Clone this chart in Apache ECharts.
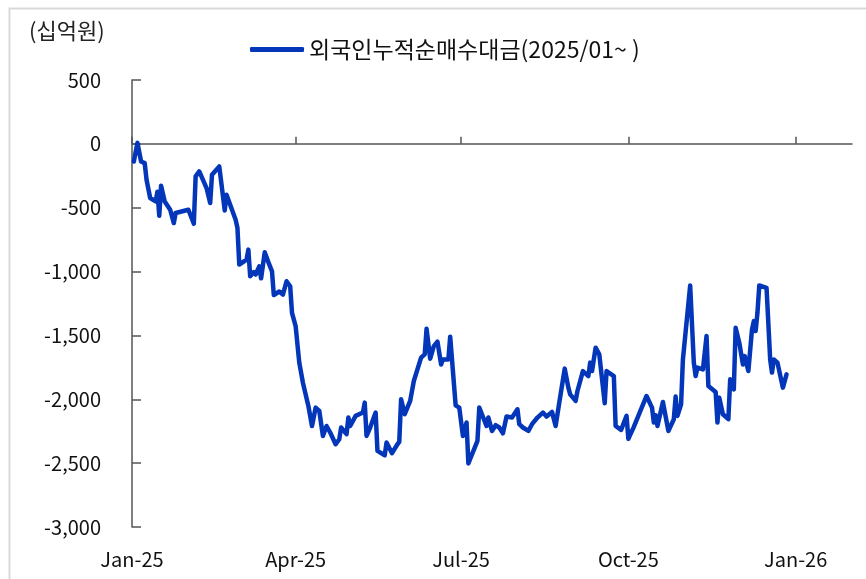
<!DOCTYPE html>
<html>
<head>
<meta charset="utf-8">
<script src="https://cdn.jsdelivr.net/npm/echarts@6/dist/echarts.min.js"></script>
<style>
html, body { margin: 0; padding: 0; background: #fff; }
#chart { width: 866px; height: 579px; }
</style>
</head>
<body>
<div id="chart"></div>
<script>
// 외국인 누적 순매수대금 (십억원), 2025/01 ~
var dates = [
    '2025-01-02','2025-01-04','2025-01-06','2025-01-08','2025-01-09','2025-01-11','2025-01-14','2025-01-15','2025-01-16','2025-01-17',
    '2025-01-19','2025-01-22','2025-01-23','2025-01-24','2025-01-25','2025-02-01','2025-02-04','2025-02-05','2025-02-07','2025-02-08',
    '2025-02-11','2025-02-13','2025-02-14','2025-02-18','2025-02-21','2025-02-22','2025-02-24','2025-02-27','2025-02-28','2025-03-01',
    '2025-03-02','2025-03-05','2025-03-06','2025-03-07','2025-03-09','2025-03-10','2025-03-12','2025-03-13','2025-03-15','2025-03-17',
    '2025-03-19','2025-03-20','2025-03-21','2025-03-23','2025-03-25','2025-03-27','2025-03-29','2025-03-30','2025-04-01','2025-04-02',
    '2025-04-03','2025-04-05','2025-04-08','2025-04-10','2025-04-12','2025-04-14','2025-04-16','2025-04-18','2025-04-20','2025-04-23',
    '2025-04-25','2025-04-26','2025-04-29','2025-04-30','2025-05-01','2025-05-04','2025-05-08','2025-05-09','2025-05-10','2025-05-12',
    '2025-05-15','2025-05-16','2025-05-20','2025-05-21','2025-05-24','2025-05-27','2025-05-28','2025-05-29','2025-05-30','2025-05-31',
    '2025-06-03','2025-06-05','2025-06-09','2025-06-11','2025-06-12','2025-06-13','2025-06-14','2025-06-16','2025-06-18','2025-06-20',
    '2025-06-21','2025-06-24','2025-06-25','2025-06-28','2025-06-30','2025-07-02','2025-07-04','2025-07-05','2025-07-10','2025-07-11',
    '2025-07-15','2025-07-16','2025-07-18','2025-07-20','2025-07-22','2025-07-24','2025-07-26','2025-07-29','2025-08-01','2025-08-02',
    '2025-08-04','2025-08-05','2025-08-07','2025-08-09','2025-08-12','2025-08-15','2025-08-17','2025-08-20','2025-08-22','2025-08-24',
    '2025-08-27','2025-08-29','2025-08-30','2025-09-02','2025-09-03','2025-09-06','2025-09-09','2025-09-10','2025-09-11','2025-09-13',
    '2025-09-15','2025-09-18','2025-09-19','2025-09-23','2025-09-24','2025-09-27','2025-09-30','2025-10-01','2025-10-04','2025-10-11',
    '2025-10-14','2025-10-15','2025-10-16','2025-10-17','2025-10-20','2025-10-23','2025-10-26','2025-10-27','2025-10-28','2025-10-30',
    '2025-10-31','2025-11-04','2025-11-06','2025-11-07','2025-11-08','2025-11-11','2025-11-13','2025-11-14','2025-11-18','2025-11-19',
    '2025-11-20','2025-11-22','2025-11-25','2025-11-26','2025-11-28','2025-11-29','2025-12-01','2025-12-03','2025-12-04','2025-12-06',
    '2025-12-08','2025-12-09','2025-12-10','2025-12-11','2025-12-12','2025-12-16','2025-12-18','2025-12-19','2025-12-20','2025-12-22',
    '2025-12-25','2025-12-27'
];
var values = [
    -138, 8, -138, -151, -281, -424, -451, -375, -563, -328,
    -451, -516, -529, -620, -541, -516, -625, -255, -216, -229,
    -346, -463, -242, -177, -521, -398, -477, -594, -659, -945,
    -932, -906, -828, -1037, -1004, -1023, -959, -1053, -849, -926,
    -998, -1184, -1180, -1156, -1180, -1076, -1115, -1323, -1427, -1440,
    -1713, -1870, -2052, -2209, -2065, -2091, -2287, -2209, -2260, -2352,
    -2313, -2221, -2273, -2143, -2209, -2130, -2104, -2026, -2287, -2221,
    -2104, -2404, -2438, -2338, -2422, -2352, -2334, -2000, -2000, -2117,
    -2013, -1857, -1674, -1648, -1448, -1448, -1682, -1584, -1549, -1727,
    -1688, -1688, -1510, -2047, -2065, -2287, -2182, -2502, -2326, -2065,
    -2209, -2143, -2248, -2203, -2221, -2266, -2135, -2143, -2078, -2195,
    -2221, -2209, -2248, -2195, -2143, -2104, -2135, -2099, -2209, -2026,
    -1760, -1909, -1961, -2013, -1935, -1779, -1818, -1713, -1779, -1596,
    -1648, -2031, -1779, -1818, -2209, -2240, -2130, -2310, -2216, -1974,
    -2065, -2182, -2125, -2209, -2021, -2248, -2156, -1979, -2130, -2039,
    -1688, -1109, -1713, -1818, -1752, -1766, -1505, -1896, -1943, -2182,
    -1987, -2117, -2156, -1844, -1922, -1440, -1557, -1727, -1662, -1779,
    -1453, -1388, -1466, -1323, -1109, -1127, -1688, -1791, -1688, -1713,
    -1909, -1805
];
var tickDates = ['2025-01-01', '2025-04-01', '2025-07-01', '2025-10-01', '2026-01-01'];
var tickLabels = ['Jan-25', 'Apr-25', 'Jul-25', 'Oct-25', 'Jan-26'];
var seriesName = '외국인누적순매수대금(2025/01~ )';
var unitText = '(십억원)';

var FONT = "'Noto Sans CJK KR', 'Noto Sans', sans-serif";
var BASE = Date.UTC(2025, 0, 1);
function dayOf(s) {
    var p = s.split('-');
    return (Date.UTC(+p[0], +p[1] - 1, +p[2]) - BASE) / 86400000;
}
var tickDays = tickDates.map(dayOf);
var labelMap = {};
tickDays.forEach(function (d, i) { labelMap[d] = tickLabels[i]; });
var lineData = dates.map(function (d, i) { return [dayOf(d), values[i]]; });
var xMax = dayOf('2026-02-01');

var chart = echarts.init(document.getElementById('chart'));
chart.setOption({
    animation: false,
    backgroundColor: '#fff',
    textStyle: { fontFamily: FONT },
    graphic: [
        {
            type: 'rect',
            left: 7, top: 6,
            shape: { width: 900, height: 620 },
            style: { fill: 'none', stroke: '#d9d9d9', lineWidth: 2 }
        },
        {
            type: 'text',
            left: 29, top: 20,
            style: { text: unitText, fontSize: 22, fontFamily: FONT, fill: '#222' }
        }
    ],
    legend: {
        left: 245,
        top: 33,
        icon: 'roundRect',
        itemWidth: 54,
        itemHeight: 5,
        itemGap: 10,
        textStyle: { fontSize: 23, color: '#111', fontFamily: FONT },
        data: [seriesName]
    },
    grid: { left: 132, right: 14, top: 80, bottom: 52 },
    xAxis: [
        {
            type: 'value',
            min: 0, max: xMax,
            axisLine: { onZero: true, lineStyle: { color: '#555', width: 1.5 } },
            axisTick: { show: true, inside: true, length: 7, customValues: tickDays, lineStyle: { color: '#555', width: 1.5 } },
            axisLabel: { show: false },
            splitLine: { show: false }
        },
        {
            type: 'value',
            position: 'bottom',
            min: 0, max: xMax,
            axisLine: { show: false, onZero: false },
            axisTick: { show: false },
            axisLabel: {
                customValues: tickDays,
                margin: 22,
                fontSize: 20,
                color: '#111',
                fontFamily: FONT,
                formatter: function (v) { return labelMap[v] || ''; }
            },
            splitLine: { show: false }
        }
    ],
    yAxis: {
        type: 'value',
        min: -3000, max: 500, interval: 500,
        axisLine: { show: true, lineStyle: { color: '#555', width: 1.5 } },
        axisTick: { show: true, inside: true, length: 9, lineStyle: { color: '#555', width: 1.5 } },
        axisLabel: {
            margin: 31,
            fontSize: 20,
            color: '#111',
            fontFamily: FONT,
            formatter: function (v) { return echarts.format.addCommas(v); }
        },
        splitLine: { show: false }
    },
    series: [{
        name: seriesName,
        type: 'line',
        xAxisIndex: 0,
        data: lineData,
        showSymbol: false,
        symbol: 'none',
        itemStyle: { color: '#0336B9' },
        lineStyle: { color: '#0336B9', width: 4.5, join: 'round', cap: 'round' }
    }]
});
</script>
</body>
</html>
